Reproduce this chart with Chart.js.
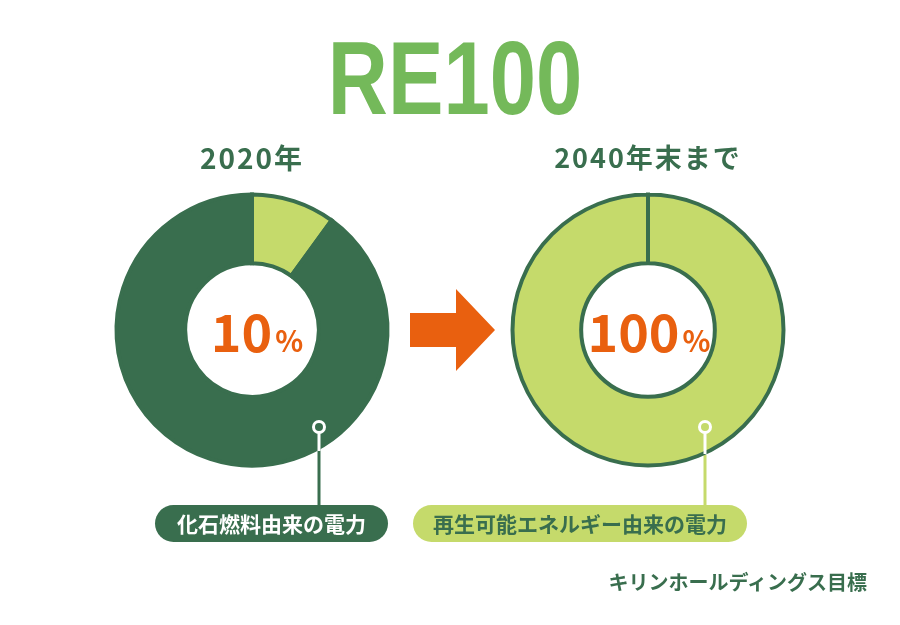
<!DOCTYPE html>
<html><head><meta charset="utf-8">
<script src="https://cdn.jsdelivr.net/npm/chart.js@4"></script>
<style>
html,body{margin:0;padding:0;background:#fff;}
#wrap{position:relative;width:900px;height:625px;overflow:hidden;font-family:"Noto Sans CJK JP","Noto Sans",sans-serif;}
.t{position:absolute;white-space:nowrap;line-height:1;}
canvas{position:absolute;}
svg{position:absolute;left:0;top:0;}
</style></head><body>
<div id="wrap">
  <svg id="ov" width="900" height="625"></svg>
  <canvas id="c1" width="300" height="300" style="left:102px;top:180px;width:300px;height:300px"></canvas>
  <canvas id="c2" width="300" height="300" style="left:498px;top:180px;width:300px;height:300px"></canvas>
  <div id="ttl" class="t"></div>
  <div id="y1" class="t"></div>
  <div id="y2" class="t"></div>
  <div id="p1" class="t"></div>
  <div id="p2" class="t"></div>
  <div id="l1" class="t"></div>
  <div id="l2" class="t"></div>
  <div id="src" class="t"></div>
</div>
<script>
// ---- data ----
const chartTitle = "RE100";
const periods = ["2020年", "2040年末まで"];
const categories = ["再生可能エネルギー由来の電力", "化石燃料由来の電力"];
const values2020 = [10, 90];
const values2040 = [100, 0];
const centerLabels = ["10", "100"];
const boxLabels = ["化石燃料由来の電力", "再生可能エネルギー由来の電力"];
const sourceText = "キリンホールディングス目標";

// ---- styles ----
const DARK = "#396e4e", LIGHT = "#c5da6b", TITLE = "#74b95a", ORANGE = "#e9600f";

function mk(id, vals){
  return new Chart(document.getElementById(id), {
    type: "doughnut",
    data: { labels: categories, datasets: [{ data: vals, backgroundColor: [LIGHT, DARK],
      borderColor: DARK, borderWidth: 4, radius: 135.5, cutout: 73, borderJoinStyle: "miter" }] },
    options: { responsive: false, animation: false, events: [],
      layout: { padding: 0 },
      plugins: { legend: { display: false }, tooltip: { enabled: false }, title: { display: false } } }
  });
}
mk("c1", values2020);
mk("c2", values2040);

function place(id, text, css){
  const el = document.getElementById(id);
  el.innerHTML = text;
  Object.assign(el.style, css);
}
place("ttl", chartTitle, {left:"0px", width:"910px", textAlign:"center", top:"26px",
  fontFamily:'"Liberation Sans","DejaVu Sans",sans-serif', fontWeight:"700",
  fontSize:"104px", color:TITLE, transform:"scaleX(0.8)", transformOrigin:"455px 0"});
place("y1", periods[0], {left:"102px", width:"300px", textAlign:"center", top:"143px",
  fontWeight:"700", fontSize:"28px", letterSpacing:"2px", color:DARK});
place("y2", periods[1], {left:"498px", width:"300px", textAlign:"center", top:"143px",
  fontWeight:"700", fontSize:"27px", letterSpacing:"2px", color:DARK});
const pctSpan = '<span style="font-size:29px;margin-left:3px">%</span>';
place("p1", centerLabels[0] + pctSpan, {left:"107px", width:"300px", textAlign:"center", top:"304px",
  fontWeight:"700", fontSize:"52px", color:ORANGE});
place("p2", centerLabels[1] + pctSpan, {left:"499px", width:"300px", textAlign:"center", top:"304px",
  fontWeight:"700", fontSize:"52px", color:ORANGE});
place("l1", boxLabels[0], {left:"155px", width:"233px", height:"37px", top:"505px", lineHeight:"37px",
  textAlign:"center", background:DARK, color:"#fff", borderRadius:"19px", fontWeight:"700", fontSize:"21px"});
place("l2", boxLabels[1], {left:"413px", width:"334px", height:"37px", top:"505px", lineHeight:"37px",
  textAlign:"center", background:LIGHT, color:DARK, borderRadius:"19px", fontWeight:"700", fontSize:"21px"});
place("src", sourceText, {left:"560px", width:"307px", textAlign:"right", top:"572px",
  fontWeight:"700", fontSize:"20px", color:DARK});

// decorative overlay: arrow and leader lines
const ov = document.getElementById("ov");
ov.innerHTML =
  '<polygon points="410,313 456,313 456,289 495,330 456,371 456,347 410,347" fill="' + ORANGE + '"/>' +
  '<line x1="319" y1="449" x2="319" y2="506" stroke="' + DARK + '" stroke-width="3"/>' +
  '<line x1="705" y1="455" x2="705" y2="506" stroke="' + LIGHT + '" stroke-width="3"/>';
const ov2 = document.createElementNS("http://www.w3.org/2000/svg", "svg");
ov2.setAttribute("width", "900"); ov2.setAttribute("height", "625");
ov2.innerHTML =
  '<line x1="319" y1="430" x2="319" y2="451" stroke="#fff" stroke-width="3"/>' +
  '<circle cx="319" cy="427" r="5.5" fill="' + DARK + '" stroke="#fff" stroke-width="3"/>' +
  '<line x1="705" y1="430" x2="705" y2="454" stroke="#fff" stroke-width="3"/>' +
  '<circle cx="705" cy="427" r="5.5" fill="' + LIGHT + '" stroke="#fff" stroke-width="3"/>';
document.getElementById("wrap").insertBefore(ov2, document.getElementById("ttl"));
</script>
</body></html>
